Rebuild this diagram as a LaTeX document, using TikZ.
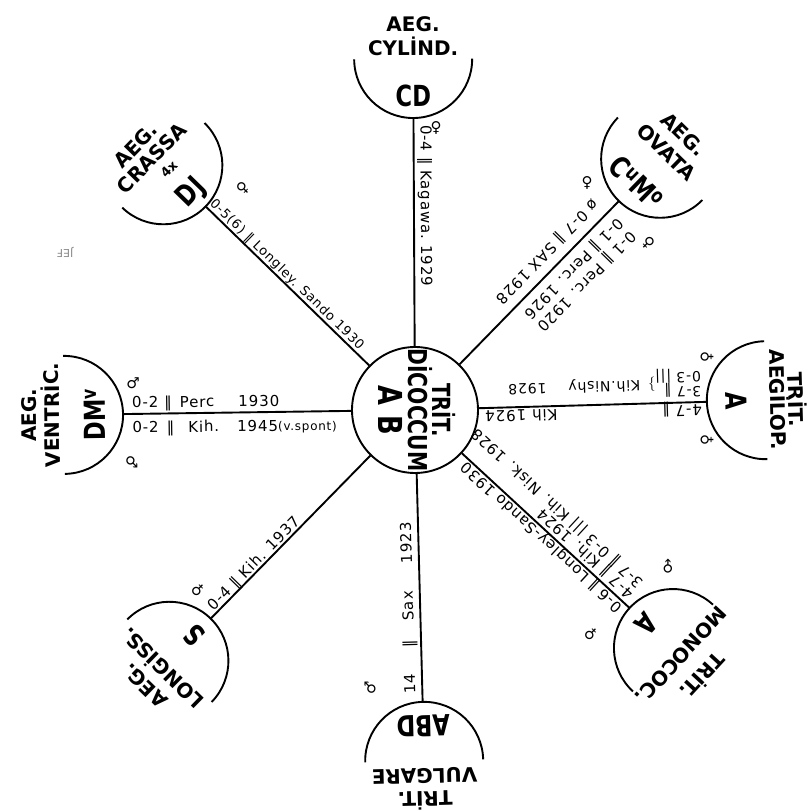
\documentclass[tikz,border=0pt]{standalone}
\usepackage{fontspec}
\setmainfont{DejaVu Sans}
\newfontfamily\Lbl[LetterSpace=6]{DejaVu Sans}
\newfontfamily\Sym[FakeStretch=0.78]{DejaVu Sans}
\tikzset{
  rim/.style={line width=1.9pt},
  spoke/.style={line width=1.9pt},
  hub/.style={circle,draw,line width=1.9pt,minimum size=126pt,inner sep=0pt},
  leaf/.style={circle,minimum size=118pt,inner sep=0pt},
  nametxt/.style={font=\bfseries\fontsize{20}{22}\selectfont,inner sep=0pt,anchor=base},
  symtxt/.style={font=\Sym\bfseries\fontsize{29}{30}\selectfont,inner sep=0pt,anchor=base},
  lbl/.style={font=\Lbl\fontsize{15}{15}\selectfont,inner sep=0pt,anchor=base west},
  sex/.style={font=\fontsize{15}{15}\selectfont,inner sep=0pt},
}
\begin{document}
\begin{tikzpicture}[x=1pt,y=1pt]
\useasboundingbox (-415,-401) rectangle (394,410);
\fill[white] (-415,-401) rectangle (394,410);
% hub and leaves
\node[hub] (c) at (0,0) {};
\node[leaf] (cd) at (90.3:351) {};
\node[leaf] (ova) at (45.7:351) {};
\node[leaf] (aeg) at (1.6:351) {};
\node[leaf] (mono) at (-42.7:351) {};
\node[leaf] (vul) at (-88.5:351) {};
\node[leaf] (lon) at (-134.4:351) {};
\node[leaf] (ven) at (180.8:351) {};
\node[leaf] (cra) at (135.8:351) {};
\foreach \n/\a in {cd/90.3,ova/45.7,aeg/1.6,mono/-42.7,vul/-88.5,lon/-134.4,ven/180.8,cra/135.8}{
  \draw[spoke] (c) -- (\n);
  \draw[rim] (\n.center) ++(\a+90:59pt) arc[start angle=\a+90,end angle=\a+270,radius=59pt];
}
% hub text
\begin{scope}[shift={(c.center)},rotate=-90,transform shape]
  \node[font=\Sym\bfseries\fontsize{25}{25}\selectfont,inner sep=0pt,anchor=base] (h1) at (0,17) {TRİT.};
  \node[font=\Sym\bfseries\fontsize{26}{26}\selectfont,inner sep=0pt,anchor=base] (h2) at (0,-6.5) {DİCOCCUM};
  \node[font=\Sym\bfseries\fontsize{33}{33}\selectfont,inner sep=0pt,anchor=base] (h3) at (0,-37) {A\hspace{10pt}B};
\end{scope}
% ---- CD
\begin{scope}[shift={(cd.center)},rotate=0.3,transform shape]
  \node[nametxt] (cd1) at (0,27.7) {AEG.};
  \node[nametxt] (cd2) at (0,3.7) {CYLİND.};
  \node[symtxt] (cd3) at (0,-47.5) {CD};
\end{scope}
\begin{scope}[shift={(cd.center)},rotate=270.3,transform shape]
  \node[lbl] (cdL) at (66,7) {0-4 ‖ Kagawa.\hspace{6pt}1929};
\end{scope}
% ---- OVATA
\begin{scope}[shift={(ova.center)},rotate=-44.3,transform shape]
  \node[nametxt] (ov1) at (0,26.7) {AEG.};
  \node[nametxt] (ov2) at (0,1.7) {OVATA};
  \node[symtxt] (ov3) at (0,-44.5) {C\textsuperscript{u}M\textsuperscript{o}};
\end{scope}
\begin{scope}[shift={(ova.center)},rotate=225.7,transform shape]
  \node[lbl] (ovL1) at (76,-21) {ø 0-7 ‖ SAX 1928};
  \node[lbl] (ovL2) at (72,10) {0-1 ‖ Perc. 1926};
  \node[lbl] (ovL3) at (72,28) {0-1 ‖ Perc. 1920};
\end{scope}
% ---- AEGILOP
\begin{scope}[shift={(aeg.center)},rotate=-88.4,transform shape]
  \node[nametxt] (ae1) at (0,22.7) {TRİT.};
  \node[nametxt] (ae2) at (0,4.7) {AEGİLOP.};
  \node[symtxt] (ae3) at (0,-40.5) {A};
\end{scope}
\begin{scope}[shift={(aeg.center)},rotate=181.6,transform shape]
  \node[lbl] (aeL1) at (64,3) {4-7 ‖\hspace{105pt}Kih\hspace{6pt}1924};
  \node[lbl,anchor=north west,font=\Lbl\fontsize{14}{14}\selectfont] (aeL2) at (64,-5)
    {\renewcommand\arraystretch{0.85}\begin{tabular}{@{}l@{}}3-7 ‖\\0-3 |||\end{tabular}$\Big\}$\hspace{8pt}Kih.Nishy\hspace{22pt}1928};
\end{scope}
% ---- MONOCOC
\begin{scope}[shift={(mono.center)},rotate=-132.7,transform shape]
  \node[nametxt] (mo1) at (0,32.7) {TRİT.};
  \node[nametxt] (mo2) at (0,3.7) {MONOCOC.};
  \node[symtxt] (mo3) at (0,-46.5) {A};
\end{scope}
\begin{scope}[shift={(mono.center)},rotate=137.3,transform shape]
  \node[lbl] (moL1) at (65,3) {0-6 ‖ Longley-Sando 1930};
  \node[lbl] (moL2) at (66,-15) {4-7 ‖ Kih. 1924};
  \node[lbl] (moL3) at (66,-29) {3-7 ‖ 0-3 ||| Kih. Nisk. 1928};
\end{scope}
% ---- VULGARE
\begin{scope}[shift={(vul.center)},rotate=-178.5,transform shape]
  \node[nametxt] (vu1) at (0,30.7) {TRİT.};
  \node[nametxt] (vu2) at (0,7.7) {VULGARE};
  \node[symtxt] (vu3) at (0,-45.5) {ABD};
\end{scope}
\begin{scope}[shift={(vul.center)},rotate=91.5,transform shape]
  \node[lbl] (vuL) at (67,7) {14\hspace{26pt}‖\hspace{20pt}Sax\hspace{28pt}1923};
\end{scope}
% ---- LONGISS
\begin{scope}[shift={(lon.center)},rotate=135.6,transform shape]
  \node[nametxt] (lo1) at (0,27.7) {AEG.};
  \node[nametxt] (lo2) at (0,2.7) {LONGİSS.};
  \node[symtxt] (lo3) at (0,-45.5) {S};
\end{scope}
\begin{scope}[shift={(lon.center)},rotate=45.6,transform shape]
  \node[lbl] (loL) at (66,3) {0-4 ‖ Kih. 1937};
\end{scope}
% ---- VENTRIC
\begin{scope}[shift={(ven.center)},rotate=90.8,transform shape]
  \node[nametxt] (ve1) at (0,27.7) {AEG.};
  \node[nametxt] (ve2) at (0,4.7) {VENTRİC.};
  \node[symtxt] (ve3) at (0,-41.5) {DM\textsuperscript{v}};
\end{scope}
\begin{scope}[shift={(ven.center)},rotate=0.8,transform shape]
  \node[lbl] (veL1) at (68,6) {0-2\hspace{6pt}‖\hspace{8pt}Perc\hspace{24pt}1930};
  \node[lbl] (veL2) at (68,-19) {0-2\hspace{8pt}‖\hspace{14pt}Kih.\hspace{18pt}1945{\fontsize{12}{12}\selectfont(v.spont)}};
\end{scope}
% ---- CRASSA
\begin{scope}[shift={(cra.center)},rotate=45.8,transform shape]
  \node[nametxt] (cr1) at (-5,26.7) {AEG.};
  \node[nametxt] (cr2) at (-3,6.2) {CRASSA};
  \node[nametxt,font=\bfseries\fontsize{13}{13}\selectfont] (cr3) at (1,-11.5) {4x};
  \node[symtxt] (cr4) at (0,-47.5) {DJ};
\end{scope}
\begin{scope}[shift={(cra.center)},rotate=-44.2,transform shape]
  \node[lbl,font=\Lbl\fontsize{13}{13}\selectfont] (crL) at (60,4) {0-5(6) ‖ Longley. Sando 1930};
\end{scope}
% ---- sex symbols
\node[sex] (s1) at (21,282) {♀};
\node[sex,rotate=45] (s2) at (-172,222) {♀};
\node[sex] (s3) at (172,227) {♀};
\node[sex,rotate=-45] (s4) at (233,167) {♀};
\node[sex,rotate=90] (s5) at (292,53) {♀};
\node[sex,rotate=90] (s6) at (292,-30) {♀};
\node[sex,rotate=45] (s7) at (253,-157) {♂};
\node[sex,rotate=135] (s8) at (176,-224) {♀};
\node[sex,rotate=90] (s9) at (-45,-278) {♂};
\node[sex,rotate=135] (s10) at (-217,-180) {♀};
\node[sex] (s11) at (-282,27) {♂};
\node[sex,rotate=-90] (s12) at (-283,-52) {♂};
% faint mark
\node[font=\fontsize{11}{11}\selectfont,text=black!45,rotate=180,inner sep=0pt] (mk) at (-350,158) {JEF};
\end{tikzpicture}
\end{document}
